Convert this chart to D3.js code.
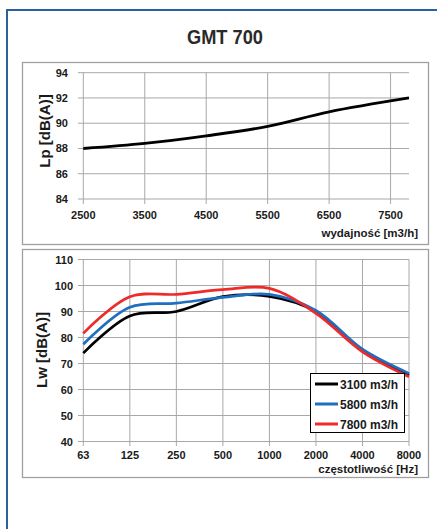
<!DOCTYPE html>
<html><head><meta charset="utf-8">
<script src="https://cdn.jsdelivr.net/npm/d3@7"></script>
<style>
html,body{margin:0;padding:0;background:#fff;}
svg{display:block;}
text{font-family:"Liberation Sans",Arial,sans-serif;font-weight:bold;fill:#1a1a1a;}
</style></head>
<body><svg id="c" width="437" height="529"></svg>
<script>
// ---- data ----
const title = "GMT 700";
const flowX = [2500, 3500, 4500, 5500, 6500, 7800];
const flowLp = [88, 88.4, 89, 89.75, 90.9, 92];
const flowTicks = [2500, 3500, 4500, 5500, 6500, 7500];
const lpTicks = [84, 86, 88, 90, 92, 94];

const freqBands = ["63", "125", "250", "500", "1000", "2000", "4000", "8000"];
const seriesNames = ["3100 m3/h", "5800 m3/h", "7800 m3/h"];
const seriesColors = ["#000000", "#1f6fc0", "#ee2a2a"];
const lw3100 = [74, 88.3, 90, 95.7, 95.8, 90, 75, 65.6];
const lw5800 = [77.4, 91.6, 93.2, 95.4, 96.6, 90.4, 75.5, 66.2];
const lw7800 = [81.6, 95.7, 96.6, 98.4, 98.9, 89.3, 74.5, 64.9];
const lwTicks = [40, 50, 60, 70, 80, 90, 100, 110];

const svg = d3.select("#c");
const grid = "#a8a8a8";

// outer blue frame
svg.append("path").attr("d","M7,540 L7,10 L445,10").attr("fill","none")
  .attr("stroke","#2a62a0").attr("stroke-width",2);

// title
svg.append("text").attr("x",225).attr("y",44).attr("text-anchor","middle")
  .attr("textLength",76).attr("lengthAdjust","spacingAndGlyphs")
  .style("font-size","21px").style("fill","#2a2a2a").text(title);

// panel boxes
svg.append("rect").attr("x",22.5).attr("y",62.5).attr("width",406).attr("height",182)
  .attr("fill","none").attr("stroke","#a0a0a0").attr("stroke-width",1.3);
svg.append("rect").attr("x",22.5).attr("y",249.5).attr("width",406).attr("height",228)
  .attr("fill","none").attr("stroke","#a0a0a0").attr("stroke-width",1.3);

// ---- top chart ----
const x1 = d3.scaleLinear().domain([2500,7800]).range([83.3,409]);
const y1 = d3.scaleLinear().domain([84,94]).range([199,72.7]);
const g1 = svg.append("g");
g1.selectAll(".hg").data(lpTicks).join("line")
  .attr("x1",78).attr("x2",409).attr("y1",d=>y1(d)).attr("y2",d=>y1(d))
  .attr("stroke",grid).attr("stroke-width",1);
g1.selectAll(".vg").data(flowTicks).join("line")
  .attr("x1",d=>x1(d)).attr("x2",d=>x1(d)).attr("y1",72.7).attr("y2",204)
  .attr("stroke",grid).attr("stroke-width",1);
g1.selectAll(".yl").data(lpTicks).join("text")
  .attr("x",68).attr("y",d=>y1(d)+4).attr("text-anchor","end")
  .style("font-size","11px").text(d=>d);
g1.selectAll(".xl").data(flowTicks).join("text")
  .attr("x",d=>x1(d)).attr("y",219).attr("text-anchor","middle")
  .style("font-size","11px").text(d=>d);
g1.append("text").attr("x",418).attr("y",237).attr("text-anchor","end")
  .style("font-size","11.5px").text("wydajność [m3/h]");
g1.append("text").attr("transform","translate(50,131) rotate(-90)").attr("text-anchor","middle")
  .style("font-size","15px").text("Lp [dB(A)]");
const line1 = d3.line().x((d,i)=>x1(flowX[i])).y(d=>y1(d)).curve(d3.curveCatmullRom.alpha(0.5));
g1.append("path").attr("d",line1(flowLp)).attr("fill","none").attr("stroke","#000").attr("stroke-width",2.8);

// ---- bottom chart ----
const x2 = d3.scalePoint().domain(freqBands).range([83.3,409]);
const y2 = d3.scaleLinear().domain([40,110]).range([441.5,259.5]);
const g2 = svg.append("g");
g2.selectAll(".hg").data(lwTicks).join("line")
  .attr("x1",78).attr("x2",409).attr("y1",d=>y2(d)).attr("y2",d=>y2(d))
  .attr("stroke",grid).attr("stroke-width",1);
g2.selectAll(".vg").data(freqBands).join("line")
  .attr("x1",d=>x2(d)).attr("x2",d=>x2(d)).attr("y1",259.5).attr("y2",446)
  .attr("stroke",grid).attr("stroke-width",1);
g2.selectAll(".yl").data(lwTicks).join("text")
  .attr("x",73).attr("y",d=>y2(d)+4).attr("text-anchor","end")
  .style("font-size","11px").text(d=>d);
g2.selectAll(".xl").data(freqBands).join("text")
  .attr("x",d=>x2(d)).attr("y",459).attr("text-anchor","middle")
  .style("font-size","11px").text(d=>d);
g2.append("text").attr("x",418).attr("y",473).attr("text-anchor","end")
  .style("font-size","11.5px").text("częstotliwość [Hz]");
g2.append("text").attr("transform","translate(47,350) rotate(-90)").attr("text-anchor","middle")
  .style("font-size","15px").text("Lw [dB(A)]");
const allSeries = [lw3100, lw5800, lw7800];
const line2 = d3.line().x((d,i)=>x2(freqBands[i])).y(d=>y2(d)).curve(d3.curveCatmullRom.alpha(0.5));
allSeries.forEach((s,k)=>{
  g2.append("path").attr("d",line2(s)).attr("fill","none")
    .attr("stroke",seriesColors[k]).attr("stroke-width",2.7);
});

// legend
const lg = svg.append("g");
lg.append("rect").attr("x",310.5).attr("y",373.5).attr("width",94).attr("height",59)
  .attr("fill","#fff").attr("stroke","#000").attr("stroke-width",1);
seriesNames.forEach((n,k)=>{
  const yy = 384 + k*20;
  lg.append("line").attr("x1",315).attr("x2",338).attr("y1",yy).attr("y2",yy)
    .attr("stroke",seriesColors[k]).attr("stroke-width",3);
  lg.append("text").attr("x",340).attr("y",yy+4.5).style("font-size","12px").text(n);
});
</script></body></html>
